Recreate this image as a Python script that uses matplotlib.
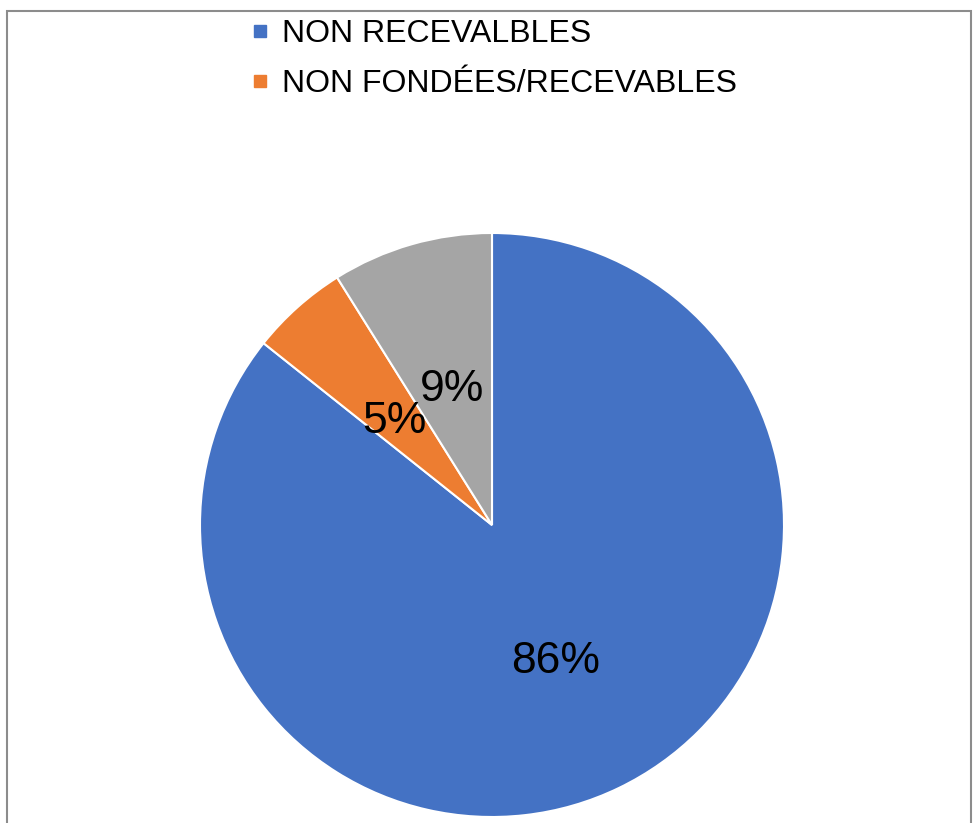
import matplotlib
matplotlib.use("Agg")
import matplotlib.pyplot as plt
from matplotlib.lines import Line2D
from matplotlib.patches import Rectangle

plt.rcParams['font.family'] = ['Liberation Sans', 'DejaVu Sans']

categories = ["NON RECEVALBLES", "NON FONDÉES/RECEVABLES", "AUTRES"]
values = [85.7, 5.4, 8.9]
colors = ["#4472C4", "#ED7D31", "#A5A5A5"]

W, H = 979, 823
fig = plt.figure(figsize=(W / 100, H / 100), dpi=100)

cx, cy, r = 492, 525, 292
ax = fig.add_axes([(cx - r) / W, (H - cy - r) / H, 2 * r / W, 2 * r / H])
wedges, texts, autotexts = ax.pie(
    values, colors=colors, startangle=90, counterclock=False,
    autopct='%.0f%%', pctdistance=0.5, radius=1,
    wedgeprops=dict(edgecolor='white', linewidth=1.5),
    textprops=dict(fontsize=32, color='black'))
for t in autotexts:
    x, y = t.get_position()
    t.set_position((x, y - 0.018))
ax.set_xlim(-1, 1)
ax.set_ylim(-1, 1)
ax.set_aspect('equal')
ax.axis('off')

handles = [Line2D([], [], marker='s', linestyle='none', markersize=8.5,
                  markerfacecolor=c, markeredgecolor=c) for c in colors[:2]]
fig.legend(handles, categories[:2], loc='upper left',
           bbox_to_anchor=(250 / W, 1 - 19 / H), frameon=False,
           fontsize=23, handlelength=0.6, handletextpad=0.4,
           labelspacing=0.62, borderpad=0, borderaxespad=0)

border = Rectangle((7.5 / W, -0.05), (971 - 7.5) / W, 1.05 - 10.5 / H,
                   transform=fig.transFigure, fill=False,
                   edgecolor='#8C8C8C', linewidth=1.5, clip_on=False)
fig.patches.append(border)

fig.savefig("out.png", dpi=100)
